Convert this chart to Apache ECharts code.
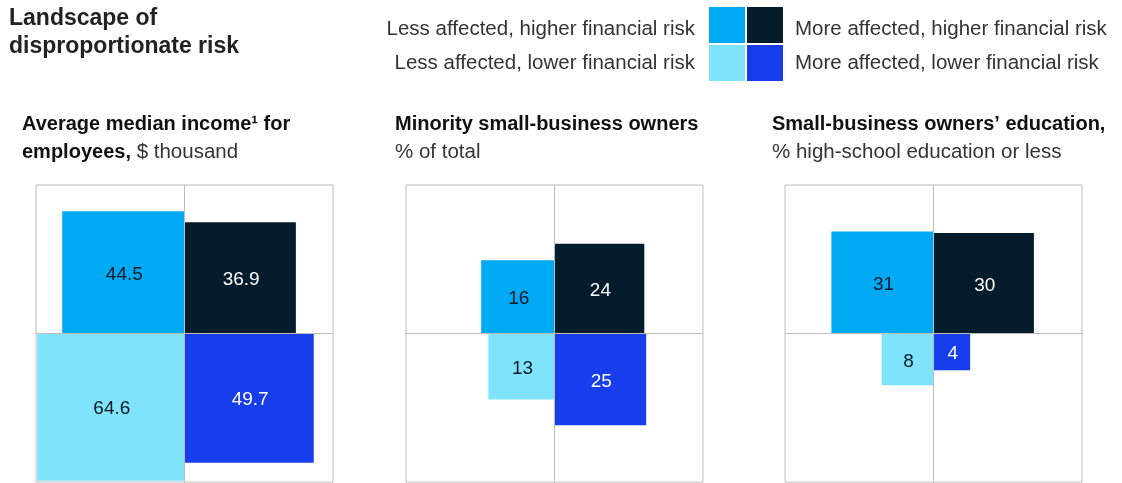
<!DOCTYPE html>
<html>
<head>
<meta charset="utf-8">
<script src="https://cdn.jsdelivr.net/npm/echarts@6/dist/echarts.min.js"></script>
<style>
html,body{margin:0;padding:0;background:#fff;}
#chart{width:1122px;height:483px;}
</style>
</head>
<body>
<div id="chart"></div>
<script>
// ---- data ----
const categories = [
  'Less affected, higher financial risk',
  'More affected, higher financial risk',
  'Less affected, lower financial risk',
  'More affected, lower financial risk'
];
const incomeValues = [44.5, 36.9, 64.6, 49.7];
const minorityValues = [16, 24, 13, 25];
const educationValues = [31, 30, 8, 4];
const panelTitles = [
  ['Average median income\u00b9 for', 'employees,', ' $ thousand'],
  ['Minority small-business owners', '', '% of total'],
  ['Small-business owners\u2019 education,', '', '% high-school education or less']
];
const mainTitle = 'Landscape of\ndisproportionate risk';

// ---- styles ----
const colors = ['#00a9f4', '#051c2c', '#7fe4fb', '#173ded'];
const labelColors = ['#0b1a26', '#ffffff', '#0b1a26', '#ffffff'];
const quadrant = [[-1, 1], [1, 1], [-1, -1], [1, -1]];
const FONT = '"Liberation Sans", Arial, sans-serif';
const lineColor = '#bdbdbd';
const panelLeft = [36, 406, 785];
const panelTop = 185;
const panelSize = 297;
const titleLeft = [22, 395, 772];
const axisExtent = 8.1;

const chart = echarts.init(document.getElementById('chart'), null, {renderer: 'canvas'});

const allValues = [incomeValues, minorityValues, educationValues];

const grids = [], xAxes = [], yAxes = [], series = [], titles = [];

titles.push({
  text: mainTitle, left: 9, top: 5, padding: 0,
  textStyle: {fontFamily: FONT, fontSize: 23, fontWeight: 'bold', lineHeight: 28, color: '#222222'}
});

allValues.forEach((vals, i) => {
  grids.push({left: panelLeft[i], top: panelTop, width: panelSize, height: panelSize,
    show: true, borderColor: lineColor, borderWidth: 1, containLabel: false});
  const axisCommon = {
    type: 'value', gridIndex: i, min: -axisExtent, max: axisExtent, z: 5,
    axisLine: {show: true, onZero: true, lineStyle: {color: lineColor, width: 1}},
    axisTick: {show: false}, axisLabel: {show: false}, splitLine: {show: false}
  };
  xAxes.push(Object.assign({}, axisCommon));
  yAxes.push(Object.assign({}, axisCommon));
  series.push({
    type: 'custom', xAxisIndex: i, yAxisIndex: i, z: 2,
    data: vals.map((v, k) => [k, v]),
    renderItem: function (params, api) {
      const k = api.value(0);
      const v = api.value(1);
      const s = Math.sqrt(v);
      const q = quadrant[k];
      const p0 = api.coord([0, 0]);
      const p1 = api.coord([q[0] * s, q[1] * s]);
      const x = Math.min(p0[0], p1[0]);
      const y = Math.min(p0[1], p1[1]);
      const w = Math.abs(p1[0] - p0[0]);
      const h = Math.abs(p1[1] - p0[1]);
      return {
        type: 'group',
        children: [
          {type: 'rect', shape: {x: x, y: y, width: w, height: h}, style: {fill: colors[k]}},
          {type: 'text', style: {text: String(v), x: x + w / 2 + 1, y: y + h / 2 + 2,
            align: 'center', verticalAlign: 'middle', fill: labelColors[k],
            fontFamily: FONT, fontSize: 19}}
        ]
      };
    }
  });
  const t = panelTitles[i];
  let txt;
  if (t[1]) txt = '{b|' + t[0] + '}\n{b|' + t[1] + '}{r|' + t[2] + '}';
  else txt = '{b|' + t[0] + '}\n{r|' + t[2] + '}';
  titles.push({
    text: txt, left: titleLeft[i], top: 110, padding: 0,
    textStyle: {
      rich: {
        b: {fontFamily: FONT, fontSize: 20, fontWeight: 'bold', lineHeight: 28, color: '#111111'},
        r: {fontFamily: FONT, fontSize: 20.5, fontWeight: 'normal', lineHeight: 28, color: '#333333'}
      }
    }
  });
});

// legend as graphic
const legendGraphic = [];
const lx = [709, 747], ly = [7, 45], ls = 36;
const legendTextY = [29, 63];
categories.forEach((c, k) => {
  const col = k % 2, row = Math.floor(k / 2);
  legendGraphic.push({type: 'rect', left: lx[col], top: ly[row],
    shape: {width: ls, height: ls}, style: {fill: colors[k]}});
  legendGraphic.push({type: 'text', x: col === 0 ? 695 : 795, y: legendTextY[row],
    style: {text: c, align: col === 0 ? 'right' : 'left', verticalAlign: 'middle', fill: '#333333',
      fontFamily: FONT, fontSize: 20.5}});
});

chart.setOption({
  animation: false,
  backgroundColor: '#ffffff',
  title: titles,
  grid: grids,
  xAxis: xAxes,
  yAxis: yAxes,
  series: series,
  graphic: legendGraphic
});
</script>
</body>
</html>
